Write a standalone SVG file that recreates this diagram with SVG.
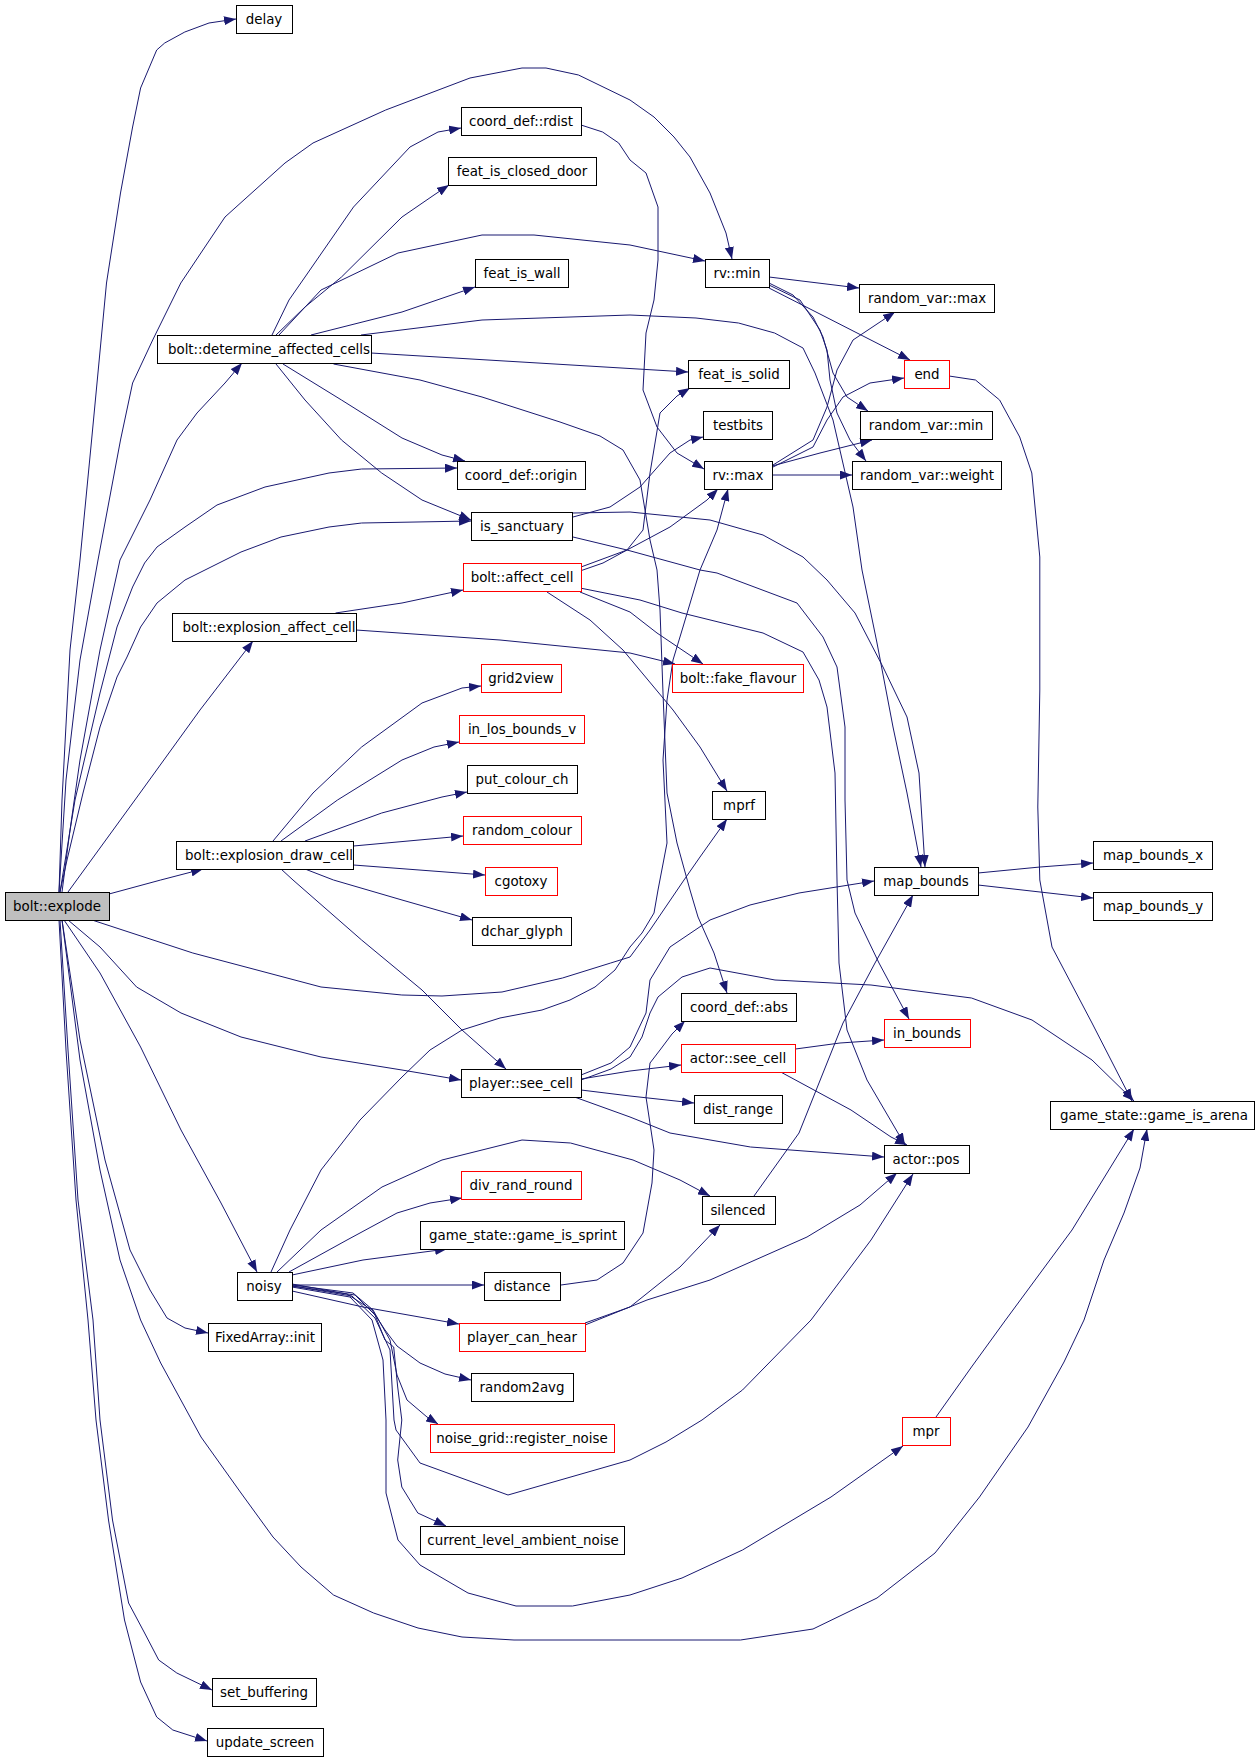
<svg xmlns="http://www.w3.org/2000/svg" width="1259" height="1760" viewBox="0 0 1259 1760">
<style>
.n rect{fill:#fff;stroke:#000;stroke-width:1}
.r rect{stroke:#f00}
.g rect{fill:#bfbfbf}
text{font-family:"DejaVu Sans","Liberation Sans",sans-serif;font-size:13.4px;text-anchor:middle;fill:#000}
#edges path{fill:none;stroke:#191970;stroke-width:1;stroke-linejoin:round;marker-end:url(#a)}
</style>
<defs>
<marker id="a" viewBox="0 0 12 9" refX="12" refY="4.5" markerWidth="12" markerHeight="9" markerUnits="userSpaceOnUse" orient="auto"><path d="M0,0 L12,4.5 L0,9 z" fill="#191970"/></marker>
</defs>
<rect width="1259" height="1760" fill="#fff"/>
<g id="edges">
<path d="M59,892 L62,800 L70,650 L80,560 L91.6,440 L106.5,283 L120.5,193 L132.6,127 L140.6,88 L156.7,50 L164.7,43 L184.8,32 L209,23 L236,19"/>
<path d="M59,892 L66,780 L80,660 L98,560 L120.5,440 L132.6,383 L152.7,340 L180.8,283 L225,217 L285,163 L313,143 L385.7,110 L470,78 L522,68 L546,68 L578.5,75 L630,100 L654,117 L674,137 L690,157 L710,193 L726,233 L732,259"/>
<path d="M62,892 L70,830 L80,760 L100,650 L120,560 L150,500 L177,440 L197,413 L225,383 L242,363"/>
<path d="M60,892 L75,800 L100,693 L117,627 L132.6,587 L144.6,563 L157,547 L185,527 L217,505 L265,487 L329,473 L361.6,469 L457,468"/>
<path d="M60,892 L67,860 L83,793 L100,727 L117,677 L127,657 L140.6,627 L157,603 L185,580 L241,552 L281,537 L329,527 L361.6,523 L471,521"/>
<path d="M68,892 L140,793 L200,710 L253,641"/>
<path d="M109,894 L160.7,880 L203,869"/>
<path d="M92,920 L192.8,953 L321,987 L401.8,995 L442,996 L502,992 L562.5,978 L610.7,963 L630,957 L650,930 L684,880 L700,857 L727,819"/>
<path d="M68,920 L100,947 L136.6,987 L181,1013 L241,1037 L321,1057 L402,1070 L461,1080"/>
<path d="M64,920 L100,973 L140.6,1047 L181,1130 L221,1203 L257,1272"/>
<path d="M62,920 L80,1040 L105,1160 L130,1250 L150,1290 L167,1318 L185,1328 L208,1333"/>
<path d="M60,920 L68,1050 L78,1200 L93,1320 L100,1420 L112.5,1520 L128.6,1603 L144.6,1633 L158.7,1660 L176.8,1673 L212,1690"/>
<path d="M59,920 L66,1050 L76,1200 L88,1320 L96,1420 L108.5,1520 L124.5,1620 L140.6,1682 L156.7,1717 L172.8,1730 L207,1741"/>
<path d="M62,920 L80,1060 L100,1170 L120,1260 L140.6,1320 L160.7,1363 L201,1437 L241,1493 L273,1537 L301,1567 L333.5,1595 L373.6,1613 L418,1628 L462,1637 L514,1640 L740.5,1640 L813,1629 L877,1598 L935,1553 L979.5,1497 L1028,1427 L1064,1362 L1084,1320 L1104,1260 L1124,1213 L1140,1168 L1147,1129"/>
<path d="M272,335 L289,300 L305,277 L353.5,207 L410,147 L438,132 L461,128"/>
<path d="M276,335 L305,307 L341.5,277 L402,217 L434,195 L449,185"/>
<path d="M279,335 L321,290 L398,253 L482,235 L534,235 L630,245 L705,261"/>
<path d="M311,335 L402,312 L475,287"/>
<path d="M361,335 L482,320 L630,315 L696,318 L738.5,323 L774.6,333 L803,348 L815,373 L833,420 L853,507 L862,570 L877,643 L893,727 L907,793 L921,867"/>
<path d="M371,353 L688,372"/>
<path d="M333.5,364 L420,380 L482,397 L560,422 L600,436 L623,450 L640,480 L650,540 L657,570 L660,610 L663,693 L667,793 L677,843 L690,890 L698,917 L714,953 L727,993"/>
<path d="M283,364 L341.5,400 L402,438 L442,455 L465,461"/>
<path d="M276,364 L305,400 L341.5,440 L381.7,473 L422,500 L471,520"/>
<path d="M335.5,613 L402,603 L463,590"/>
<path d="M356,630 L500,640 L630,653 L675,664"/>
<path d="M580,571 L603,563 L627,550 L643,530 L650,473 L660,413 L677,396 L690,388"/>
<path d="M581,567 L627,550 L670,527 L707,500 L718,489"/>
<path d="M580,592 L630,612 L657,633 L703,664"/>
<path d="M580,588 L640,600 L682,613 L763,633 L803,652 L819,680 L827,707 L835,773 L837,880 L839,963 L847,1030 L867,1080 L905,1145"/>
<path d="M547,592 L590,620 L623,650 L673,710 L700,747 L727,791"/>
<path d="M573,517 L610,507 L640,487 L670,453 L690,440 L703,437"/>
<path d="M573,513 L630,512 L710,520 L763,535 L803,557 L827,580 L855,613 L883,667 L907,717 L919,773 L925,867"/>
<path d="M573,537 L627,550 L700,570 L717,573 L797,603 L823,637 L837,667 L845,727 L845,800 L847,880 L855,913 L879,963 L909,1019"/>
<path d="M581,125 L602.6,132 L618.7,143 L630,160 L646,173 L658,207 L658,260 L654,300 L646,333 L643,390 L657,427 L677,453 L704,469"/>
<path d="M769,277 L859,288"/>
<path d="M769,288 L910,360"/>
<path d="M769,283 L793,295 L813,317 L823,337 L833,373 L847,397 L868,411"/>
<path d="M769,285 L800,300 L820,330 L827,350 L830,380 L837,413 L850,440 L866,461"/>
<path d="M772,475 L852,475"/>
<path d="M772,466 L820,453 L872,440"/>
<path d="M773,465 L813,440 L827,407 L837,370 L853,340 L895,312"/>
<path d="M773,467 L813,447 L827,420 L843,397 L870,383 L904,378"/>
<path d="M949,376 L975.5,380 L999.6,400 L1019.7,437 L1031.8,473 L1039.8,557 L1039.8,690 L1037.8,807 L1039.8,880 L1052,947 L1092,1023 L1132,1101"/>
<path d="M273,841 L313,793 L361.6,747 L422,703 L462,688 L481,686"/>
<path d="M281,841 L337.5,800 L402,760 L434,747 L459,742"/>
<path d="M305,841 L381.7,813 L442,797 L467,792"/>
<path d="M353.5,846 L463,836"/>
<path d="M353.5,865 L485,875"/>
<path d="M305,869 L333.5,880 L402,900 L472,920"/>
<path d="M281,869 L293,880 L361.6,940 L422,990 L462,1030 L506,1069"/>
<path d="M978,873 L1040,867 L1093,863"/>
<path d="M978,885 L1040,892 L1093,898"/>
<path d="M795.5,1049 L840,1043 L884,1040"/>
<path d="M780.7,1072 L851,1110 L891,1137 L907,1145"/>
<path d="M581,1079 L630,1071 L681,1065"/>
<path d="M581,1090 L630,1096 L694,1103"/>
<path d="M574.5,1097 L630,1117 L670,1133 L750.5,1147 L884,1157"/>
<path d="M581,1075 L611,1063 L630,1047 L646,1013 L650,980 L670,947 L710,920 L750,905 L799,893 L874,881"/>
<path d="M581,1080 L611,1069 L630,1057 L642,1037 L650,1013 L658,997 L682,977 L710,968 L775,980 L871,985 L971.5,998 L1032,1020 L1092,1060 L1134,1101"/>
<path d="M271,1272 L290,1230 L321,1170 L360,1120 L402,1077 L430,1050 L462,1030 L500,1018 L542,1010 L570,1000 L595,987 L615,970 L630,947 L642,933 L654,913 L658,890 L667,843 L663,760 L667,700 L673,660 L683,627 L700,570 L717,530 L728,489"/>
<path d="M277,1272 L321,1230 L382,1187 L442,1160 L522,1140 L570.5,1143 L633,1160 L680,1180 L710,1196"/>
<path d="M289,1272 L347,1240 L397,1213 L430,1203 L462,1198"/>
<path d="M292,1275 L363,1260 L447,1249"/>
<path d="M292,1285 L484,1285"/>
<path d="M292,1291 L363,1307 L459,1324"/>
<path d="M292,1284 L347,1294 L372,1310 L385,1330 L397,1346 L420,1363 L445,1374 L471,1380"/>
<path d="M292,1285 L353,1293 L373,1310 L390,1340 L397,1375 L407,1400 L427,1417 L438,1424"/>
<path d="M292,1286 L355,1295 L375,1315 L385,1340 L393.7,1347 L397.7,1387 L401.8,1420 L397.7,1460 L401.8,1487 L417.8,1513 L446,1526"/>
<path d="M292,1286 L352,1296 L375,1318 L390,1350 L394,1420 L396,1430 L420,1463 L508,1495 L630,1460 L666,1442 L702,1420 L742.5,1390 L811,1320 L871,1240 L913,1174"/>
<path d="M292,1287 L350,1297 L372,1320 L383,1360 L386,1420 L386,1493 L398,1540 L420,1565 L468,1593 L516,1606 L572.5,1606 L630,1595 L682,1578 L742.5,1550 L831,1497 L903,1446"/>
<path d="M585,1323 L630,1307 L680,1267 L720,1225"/>
<path d="M585,1325 L647,1300 L710,1280 L807,1237 L860,1205 L897,1173"/>
<path d="M754,1196 L799,1133 L843,1023 L875,963 L913,895"/>
<path d="M936,1417 L971.5,1367 L1005.6,1320 L1072,1230 L1134,1129"/>
<path d="M561,1285 L597,1280 L623,1263 L643,1233 L652,1183 L654,1150 L646,1097 L650,1063 L660,1050 L672,1034 L685,1021"/>
</g>
<g id="n_explode" class="n g"><rect x="5.5" y="892.5" width="104" height="28"/><text x="57" y="911">bolt::explode</text></g>
<g id="n_delay" class="n"><rect x="236.5" y="5.5" width="56" height="28"/><text x="264" y="24">delay</text></g>
<g id="n_rdist" class="n"><rect x="461.5" y="107.5" width="120" height="28"/><text x="521" y="126">coord_def::rdist</text></g>
<g id="n_closed_door" class="n"><rect x="448.5" y="157.5" width="148" height="28"/><text x="522" y="176">feat_is_closed_door</text></g>
<g id="n_feat_is_wall" class="n"><rect x="475.5" y="259.5" width="93" height="28"/><text x="522" y="278">feat_is_wall</text></g>
<g id="n_determine" class="n"><rect x="157.5" y="335.5" width="214" height="28"/><text x="269" y="354">bolt::determine_affected_cells</text></g>
<g id="n_rv_min" class="n"><rect x="705.5" y="259.5" width="64" height="28"/><text x="737" y="278">rv::min</text></g>
<g id="n_rvar_max" class="n"><rect x="859.5" y="284.5" width="135" height="28"/><text x="927" y="303">random_var::max</text></g>
<g id="n_end" class="n r"><rect x="904.5" y="360.5" width="45" height="28"/><text x="927" y="379">end</text></g>
<g id="n_feat_is_solid" class="n"><rect x="688.5" y="360.5" width="101" height="28"/><text x="739" y="379">feat_is_solid</text></g>
<g id="n_testbits" class="n"><rect x="703.5" y="411.5" width="69" height="28"/><text x="738" y="430">testbits</text></g>
<g id="n_rvar_min" class="n"><rect x="860.5" y="411.5" width="132" height="28"/><text x="926" y="430">random_var::min</text></g>
<g id="n_origin" class="n"><rect x="457.5" y="461.5" width="128" height="28"/><text x="521" y="480">coord_def::origin</text></g>
<g id="n_rv_max" class="n"><rect x="704.5" y="461.5" width="68" height="28"/><text x="738" y="480">rv::max</text></g>
<g id="n_rvar_weight" class="n"><rect x="852.5" y="461.5" width="149" height="28"/><text x="927" y="480">random_var::weight</text></g>
<g id="n_is_sanctuary" class="n"><rect x="471.5" y="512.5" width="101" height="28"/><text x="522" y="531">is_sanctuary</text></g>
<g id="n_affect_cell" class="n r"><rect x="463.5" y="563.5" width="118" height="28"/><text x="522" y="582">bolt::affect_cell</text></g>
<g id="n_expl_affect" class="n"><rect x="172.5" y="613.5" width="184" height="28"/><text x="269" y="632">bolt::explosion_affect_cell</text></g>
<g id="n_grid2view" class="n r"><rect x="481.5" y="664.5" width="80" height="28"/><text x="521" y="683">grid2view</text></g>
<g id="n_fake_flavour" class="n r"><rect x="672.5" y="664.5" width="131" height="28"/><text x="738" y="683">bolt::fake_flavour</text></g>
<g id="n_in_los_bounds_v" class="n r"><rect x="459.5" y="715.5" width="125" height="28"/><text x="522" y="734">in_los_bounds_v</text></g>
<g id="n_put_colour_ch" class="n"><rect x="467.5" y="765.5" width="110" height="28"/><text x="522" y="784">put_colour_ch</text></g>
<g id="n_mprf" class="n"><rect x="712.5" y="791.5" width="53" height="28"/><text x="739" y="810">mprf</text></g>
<g id="n_random_colour" class="n r"><rect x="463.5" y="816.5" width="118" height="28"/><text x="522" y="835">random_colour</text></g>
<g id="n_expl_draw" class="n"><rect x="176.5" y="841.5" width="177" height="28"/><text x="269" y="860">bolt::explosion_draw_cell</text></g>
<g id="n_map_bounds_x" class="n"><rect x="1093.5" y="841.5" width="119" height="28"/><text x="1153" y="860">map_bounds_x</text></g>
<g id="n_cgotoxy" class="n r"><rect x="485.5" y="867.5" width="72" height="28"/><text x="521" y="886">cgotoxy</text></g>
<g id="n_map_bounds" class="n"><rect x="874.5" y="867.5" width="104" height="28"/><text x="926" y="886">map_bounds</text></g>
<g id="n_map_bounds_y" class="n"><rect x="1093.5" y="892.5" width="119" height="28"/><text x="1153" y="911">map_bounds_y</text></g>
<g id="n_dchar_glyph" class="n"><rect x="472.5" y="917.5" width="99" height="28"/><text x="522" y="936">dchar_glyph</text></g>
<g id="n_abs" class="n"><rect x="681.5" y="993.5" width="115" height="28"/><text x="739" y="1012">coord_def::abs</text></g>
<g id="n_in_bounds" class="n r"><rect x="884.5" y="1019.5" width="86" height="28"/><text x="927" y="1038">in_bounds</text></g>
<g id="n_actor_see_cell" class="n r"><rect x="681.5" y="1044.5" width="114" height="28"/><text x="738" y="1063">actor::see_cell</text></g>
<g id="n_player_see_cell" class="n"><rect x="461.5" y="1069.5" width="120" height="28"/><text x="521" y="1088">player::see_cell</text></g>
<g id="n_dist_range" class="n"><rect x="694.5" y="1095.5" width="88" height="28"/><text x="738" y="1114">dist_range</text></g>
<g id="n_game_is_arena" class="n"><rect x="1050.5" y="1101.5" width="204" height="28"/><text x="1154" y="1120">game_state::game_is_arena</text></g>
<g id="n_actor_pos" class="n"><rect x="884.5" y="1145.5" width="85" height="28"/><text x="926" y="1164">actor::pos</text></g>
<g id="n_div_rand_round" class="n r"><rect x="461.5" y="1171.5" width="120" height="28"/><text x="521" y="1190">div_rand_round</text></g>
<g id="n_silenced" class="n"><rect x="702.5" y="1196.5" width="73" height="28"/><text x="738" y="1215">silenced</text></g>
<g id="n_game_is_sprint" class="n"><rect x="420.5" y="1221.5" width="204" height="28"/><text x="523" y="1240">game_state::game_is_sprint</text></g>
<g id="n_noisy" class="n"><rect x="237.5" y="1272.5" width="55" height="28"/><text x="264" y="1291">noisy</text></g>
<g id="n_distance" class="n"><rect x="484.5" y="1272.5" width="76" height="28"/><text x="522" y="1291">distance</text></g>
<g id="n_fixedarray_init" class="n"><rect x="208.5" y="1323.5" width="113" height="28"/><text x="265" y="1342">FixedArray::init</text></g>
<g id="n_player_can_hear" class="n r"><rect x="459.5" y="1323.5" width="126" height="28"/><text x="522" y="1342">player_can_hear</text></g>
<g id="n_random2avg" class="n"><rect x="471.5" y="1373.5" width="102" height="28"/><text x="522" y="1392">random2avg</text></g>
<g id="n_mpr" class="n r"><rect x="902.5" y="1417.5" width="48" height="28"/><text x="926" y="1436">mpr</text></g>
<g id="n_register_noise" class="n r"><rect x="430.5" y="1424.5" width="184" height="28"/><text x="522" y="1443">noise_grid::register_noise</text></g>
<g id="n_ambient_noise" class="n"><rect x="420.5" y="1526.5" width="204" height="28"/><text x="523" y="1545">current_level_ambient_noise</text></g>
<g id="n_set_buffering" class="n"><rect x="212.5" y="1678.5" width="104" height="28"/><text x="264" y="1697">set_buffering</text></g>
<g id="n_update_screen" class="n"><rect x="207.5" y="1728.5" width="116" height="28"/><text x="265" y="1747">update_screen</text></g>
</svg>
